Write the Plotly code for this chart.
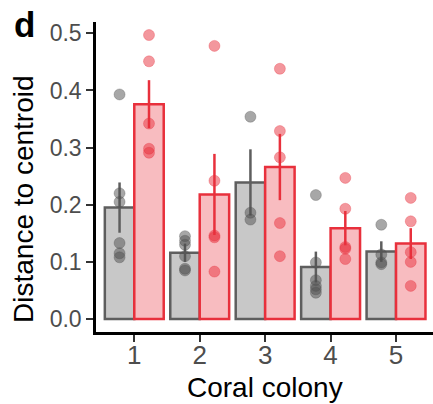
import plotly.graph_objects as go

colonies = [1, 2, 3, 4, 5]
tick_labels = ["1", "2", "3", "4", "5"]

gray_mean = [0.195, 0.116, 0.239, 0.091, 0.118]
gray_err = [0.044, 0.016, 0.058, 0.027, 0.018]
red_mean = [0.376, 0.218, 0.266, 0.159, 0.132]
red_err = [0.042, 0.071, 0.058, 0.030, 0.027]

gray_points = [
    [0.393, 0.220, 0.205, 0.133, 0.115, 0.108],
    [0.145, 0.137, 0.130, 0.110, 0.088, 0.085],
    [0.354, 0.186, 0.174],
    [0.217, 0.099, 0.068, 0.058, 0.052, 0.046],
    [0.165, 0.113, 0.099, 0.096],
]
red_points = [
    [0.497, 0.451, 0.342, 0.298, 0.291],
    [0.478, 0.242, 0.146, 0.143, 0.083],
    [0.438, 0.329, 0.283, 0.168, 0.110],
    [0.247, 0.193, 0.126, 0.123, 0.105],
    [0.212, 0.171, 0.117, 0.100, 0.058],
]

GRAY_FILL = "#c8c8c8"
GRAY_LINE = "#5e5e5e"
RED_FILL = "#f8bcc0"
RED_LINE = "#e8303c"
BW = 0.45

fig = go.Figure()
fig.add_trace(go.Bar(
    x=colonies, y=gray_mean, width=BW, offset=-BW,
    marker=dict(color=GRAY_FILL, line=dict(color=GRAY_LINE, width=2.5)),
    error_y=dict(type="data", array=gray_err, visible=True, color=GRAY_LINE, thickness=2.5, width=0),
    showlegend=False,
))
fig.add_trace(go.Bar(
    x=colonies, y=red_mean, width=BW, offset=0,
    marker=dict(color=RED_FILL, line=dict(color=RED_LINE, width=2.5)),
    error_y=dict(type="data", array=red_err, visible=True, color=RED_LINE, thickness=2.5, width=0),
    showlegend=False,
))

gx, gy, rx, ry = [], [], [], []
for c, pts in zip(colonies, gray_points):
    gx += [c - BW / 2] * len(pts)
    gy += pts
for c, pts in zip(colonies, red_points):
    rx += [c + BW / 2] * len(pts)
    ry += pts

fig.add_trace(go.Scatter(
    x=gx, y=gy, mode="markers",
    marker=dict(size=11, color="rgba(80,80,80,0.5)", line=dict(width=1, color="rgba(80,80,80,0.3)")),
    showlegend=False,
))
fig.add_trace(go.Scatter(
    x=rx, y=ry, mode="markers",
    marker=dict(size=11, color="rgba(232,48,60,0.5)", line=dict(width=1, color="rgba(232,48,60,0.3)")),
    showlegend=False,
))

fig.update_layout(
    width=433, height=404,
    margin=dict(l=96, r=0, t=22, b=72),
    plot_bgcolor="white", paper_bgcolor="white",
    barmode="overlay",
    font=dict(family="Liberation Sans, Arial, sans-serif", color="#4d4d4d"),
    xaxis=dict(
        range=[0.415, 5.565], tickmode="array", tickvals=colonies, ticktext=tick_labels,
        showline=True, linecolor="black", linewidth=2.5, mirror=False,
        ticks="outside", ticklen=7, tickwidth=2, tickcolor="#333333",
        ticklabelstandoff=-9,
        tickfont=dict(size=26, color="#4d4d4d"), showgrid=False, zeroline=False,
    ),
    yaxis=dict(
        range=[-0.0227, 0.5198], tickmode="array",
        tickvals=[0, 0.1, 0.2, 0.3, 0.4, 0.5],
        ticktext=["0.0", "0.1", "0.2", "0.3", "0.4", "0.5"],
        showline=True, linecolor="black", linewidth=2.5,
        ticks="outside", ticklen=7, tickwidth=2, tickcolor="#333333",
        tickfont=dict(size=23, color="#4d4d4d"), showgrid=False, zeroline=False,
    ),
    annotations=[
        dict(text="Coral colony", xref="paper", yref="paper", x=0.5, y=-0.178,
             xanchor="center", yanchor="middle", showarrow=False,
             font=dict(size=28, color="black")),
        dict(text="Distance to centroid", xref="paper", yref="paper", x=-0.2136, y=0.426,
             xanchor="center", yanchor="middle", showarrow=False, textangle=-90,
             font=dict(size=28, color="black")),
        dict(text="<b>d</b>", xref="paper", yref="paper", x=-0.25, y=1.06,
             xanchor="left", yanchor="top", showarrow=False,
             font=dict(size=35, color="black")),
    ],
)

fig.write_html("out.html")
